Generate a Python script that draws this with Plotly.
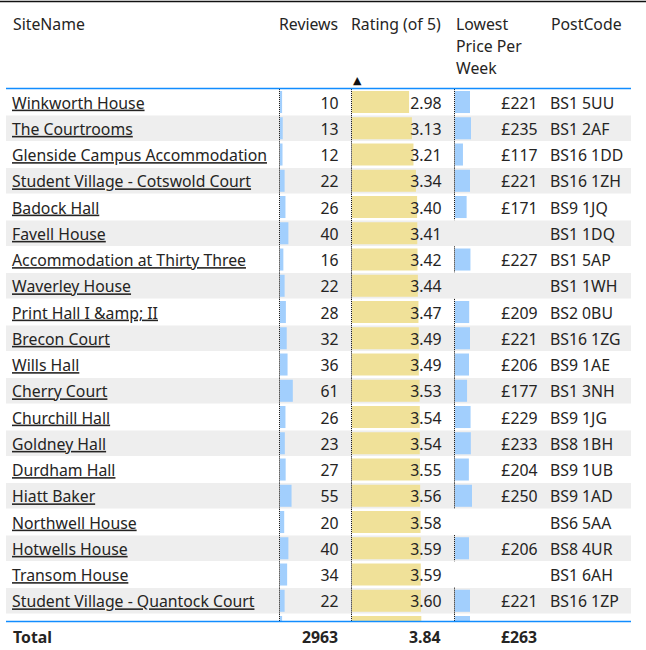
import plotly.graph_objects as go

# ---------------- data ----------------
names = ["Winkworth House", "The Courtrooms", "Glenside Campus Accommodation",
         "Student Village - Cotswold Court", "Badock Hall", "Favell House",
         "Accommodation at Thirty Three", "Waverley House", "Print Hall I &amp; II",
         "Brecon Court", "Wills Hall", "Cherry Court", "Churchill Hall",
         "Goldney Hall", "Durdham Hall", "Hiatt Baker", "Northwell House",
         "Hotwells House", "Transom House", "Student Village - Quantock Court"]
reviews = [10, 13, 12, 22, 26, 40, 16, 22, 28, 32, 36, 61, 26, 23, 27, 55, 20, 40, 34, 22]
rating = [2.98, 3.13, 3.21, 3.34, 3.40, 3.41, 3.42, 3.44, 3.47, 3.49, 3.49, 3.53,
          3.54, 3.54, 3.55, 3.56, 3.58, 3.59, 3.59, 3.60]
price = [221, 235, 117, 221, 171, None, 227, None, 209, 221, 206, 177, 229, 233,
         204, 250, None, 206, None, 221]
postcode = ["BS1 5UU", "BS1 2AF", "BS16 1DD", "BS16 1ZH", "BS9 1JQ", "BS1 1DQ",
            "BS1 5AP", "BS1 1WH", "BS2 0BU", "BS16 1ZG", "BS9 1AE", "BS1 3NH",
            "BS9 1JG", "BS8 1BH", "BS9 1UB", "BS9 1AD", "BS6 5AA", "BS8 4UR",
            "BS1 6AH", "BS16 1ZP"]
# next row, cut off by the scroll edge (only the top of its bars shows)
partial_reviews = 10
partial_rating = 3.62
partial_price = 221

header_labels = ["SiteName", "Reviews", "Rating (of 5)", "Lowest", "Price Per", "Week", "PostCode"]
total_label = "Total"
total_reviews = 2963
total_rating = 3.84
total_price = 263

# ---------------- layout constants (pixels) ----------------
W, H = 646, 650
ROW_TOP = 88.9
PITCH = 26.25
PLOT_BOTTOM = 621
TEXT = "#252423"
FONT = "Segoe UI, Noto Sans, sans-serif"
FS = 15.8
YELLOW = "#F0E199"
BLUE = "#A2CFFD"
GRAY = "#EEEEEE"
LINE_BLUE = "#118DFF"
TEXT_DY = 0.1          # text sits slightly lower than the row centre (in rows)

NAME_X, REV_X, RAT_X, PRICE_X, PC_X = 12, 338.5, 441.5, 537.5, 550

# (pixel of value 0, pixel of axis max, axis max)
REV_DOM = (280, 346, 66 / 0.21)
RAT_DOM = (352, 447.75, 5)
PRI_DOM = (455, 540, 85 / 0.068)


def px(x):
    return x / W


def py(y):
    return 1 - y / H


def unit(dom):
    return dom[2] / (dom[1] - dom[0])   # axis units per pixel


def bar_axis(dom):
    # domain starts 2px left of the bar origin so the dotted origin line is not clipped
    return dict(domain=[px(dom[0] - 2), px(dom[1])], range=[-2 * unit(dom), dom[2]])


n = len(names)
rows = list(range(n))
trows = [i + TEXT_DY for i in rows]
all_rows = list(range(n + 1))
rev_all = reviews + [partial_reviews]
rat_all = rating + [partial_rating]
price_all = price + [partial_price]

y_dom = [py(PLOT_BOTTOM), py(ROW_TOP)]
y_rng = [(PLOT_BOTTOM - ROW_TOP) / PITCH - 0.5, -0.5]

fig = go.Figure()

# alternating row backgrounds
bg_rows = [i for i in all_rows if i % 2 == 1]
fig.add_trace(go.Bar(x=[625] * len(bg_rows), base=[6] * len(bg_rows), y=bg_rows,
                     orientation="h", width=0.965, marker=dict(color=GRAY, line_width=0),
                     xaxis="x", yaxis="y", hoverinfo="skip", showlegend=False))

# data bars
fig.add_trace(go.Bar(x=rev_all, y=all_rows, orientation="h", width=0.84,
                     marker=dict(color=BLUE, line_width=0), xaxis="x2", yaxis="y",
                     hoverinfo="skip", showlegend=False))
fig.add_trace(go.Bar(x=rat_all, y=all_rows, orientation="h", width=0.84,
                     marker=dict(color=YELLOW, line_width=0), xaxis="x3", yaxis="y",
                     hoverinfo="skip", showlegend=False))
fig.add_trace(go.Bar(x=price_all, y=all_rows, orientation="h", width=0.84,
                     marker=dict(color=BLUE, line_width=0), xaxis="x4", yaxis="y",
                     hoverinfo="skip", showlegend=False))


# dotted origin lines of the data bars (half a pixel left of the bar origin)
def dotted(values, axis, dom):
    off = -0.5 * unit(dom)
    xs, ys = [], []
    for i, v in enumerate(values):
        if v is None:
            continue
        xs += [off, off, None]
        ys += [i - 0.5, i + 0.5, None]
    fig.add_trace(go.Scatter(x=xs, y=ys, mode="lines", xaxis=axis, yaxis="y",
                             line=dict(color="#000000", width=1, dash="1px,1px"),
                             hoverinfo="skip", showlegend=False))


dotted(rev_all, "x2", REV_DOM)
dotted(rat_all, "x3", RAT_DOM)
dotted(price_all, "x4", PRI_DOM)

# cell texts
txtfont = dict(family=FONT, size=FS, color=TEXT)
fig.add_trace(go.Scatter(x=[NAME_X] * n, y=trows, mode="text",
                         text=["<u>" + s.replace("&", "&amp;") + "</u>" for s in names],
                         textposition="middle right", textfont=txtfont,
                         xaxis="x5", yaxis="y", hoverinfo="skip", showlegend=False))
fig.add_trace(go.Scatter(x=[REV_X] * n, y=trows, mode="text", text=[str(v) for v in reviews],
                         textposition="middle left", textfont=txtfont,
                         xaxis="x5", yaxis="y", hoverinfo="skip", showlegend=False))
fig.add_trace(go.Scatter(x=[RAT_X] * n, y=trows, mode="text", text=[f"{v:.2f}" for v in rating],
                         textposition="middle left", textfont=txtfont,
                         xaxis="x5", yaxis="y", hoverinfo="skip", showlegend=False))
fig.add_trace(go.Scatter(x=[PRICE_X] * n, y=trows, mode="text",
                         text=["" if v is None else f"£{v}" for v in price],
                         textposition="middle left", textfont=txtfont,
                         xaxis="x5", yaxis="y", hoverinfo="skip", showlegend=False))
fig.add_trace(go.Scatter(x=[PC_X] * n, y=trows, mode="text", text=postcode,
                         textposition="middle right", textfont=txtfont,
                         xaxis="x5", yaxis="y", hoverinfo="skip", showlegend=False))

# ---------------- axes ----------------
hidden = dict(visible=False, fixedrange=True, showgrid=False, zeroline=False, anchor="y")
fig.update_layout(
    width=W, height=H, margin=dict(l=0, r=0, t=0, b=0),
    paper_bgcolor="white", plot_bgcolor="rgba(0,0,0,0)",
    barmode="overlay", showlegend=False,
    xaxis=dict(domain=[0, 1], range=[0, W], **hidden),
    xaxis2=dict(**bar_axis(REV_DOM), **hidden),
    xaxis3=dict(**bar_axis(RAT_DOM), **hidden),
    xaxis4=dict(**bar_axis(PRI_DOM), **hidden),
    xaxis5=dict(domain=[0, 1], range=[0, W], **hidden),
    yaxis=dict(domain=y_dom, range=y_rng, anchor="x", visible=False, fixedrange=True,
               showgrid=False, zeroline=False),
)

# ---------------- header / total / rules ----------------
hfont = dict(family=FONT, size=FS, color=TEXT)
ann = [
    dict(text=header_labels[0], x=px(NAME_X), y=py(24), xanchor="left"),
    dict(text=header_labels[1], x=px(REV_X), y=py(24), xanchor="right"),
    dict(text=header_labels[2], x=px(RAT_X), y=py(24), xanchor="right"),
    dict(text=header_labels[3], x=px(455), y=py(24), xanchor="left"),
    dict(text=header_labels[4], x=px(455), y=py(46), xanchor="left"),
    dict(text=header_labels[5], x=px(455), y=py(68), xanchor="left"),
    dict(text=header_labels[6], x=px(PC_X), y=py(24), xanchor="left"),
    dict(text="<b>" + total_label + "</b>", x=px(NAME_X), y=py(636.5), xanchor="left"),
    dict(text=f"<b>{total_reviews}</b>", x=px(REV_X), y=py(636.5), xanchor="right"),
    dict(text=f"<b>{total_rating:.2f}</b>", x=px(RAT_X), y=py(636.5), xanchor="right"),
    dict(text=f"<b>£{total_price}</b>", x=px(PRICE_X), y=py(636.5), xanchor="right"),
]
for a in ann:
    fig.add_annotation(xref="paper", yref="paper", yanchor="middle", showarrow=False,
                       font=hfont, borderpad=0, **a)
fig.add_annotation(text="▲", xref="paper", yref="paper", x=px(357), y=py(80),
                   xanchor="center", yanchor="middle", showarrow=False,
                   font=dict(family="DejaVu Sans", size=11, color="#111111"))

fig.add_shape(type="line", xref="paper", yref="paper", x0=0, x1=1, y0=py(1.5), y1=py(1.5),
              line=dict(color="#111111", width=1.5))
fig.add_shape(type="line", xref="paper", yref="paper", x0=px(6), x1=px(631),
              y0=py(88.5), y1=py(88.5), line=dict(color=LINE_BLUE, width=1.5))
fig.add_shape(type="line", xref="paper", yref="paper", x0=px(6), x1=px(631),
              y0=py(621.5), y1=py(621.5), line=dict(color=LINE_BLUE, width=1.5))

fig.write_html("out.html", config={"displayModeBar": False},
               post_script="document.body.style.margin='0';")
